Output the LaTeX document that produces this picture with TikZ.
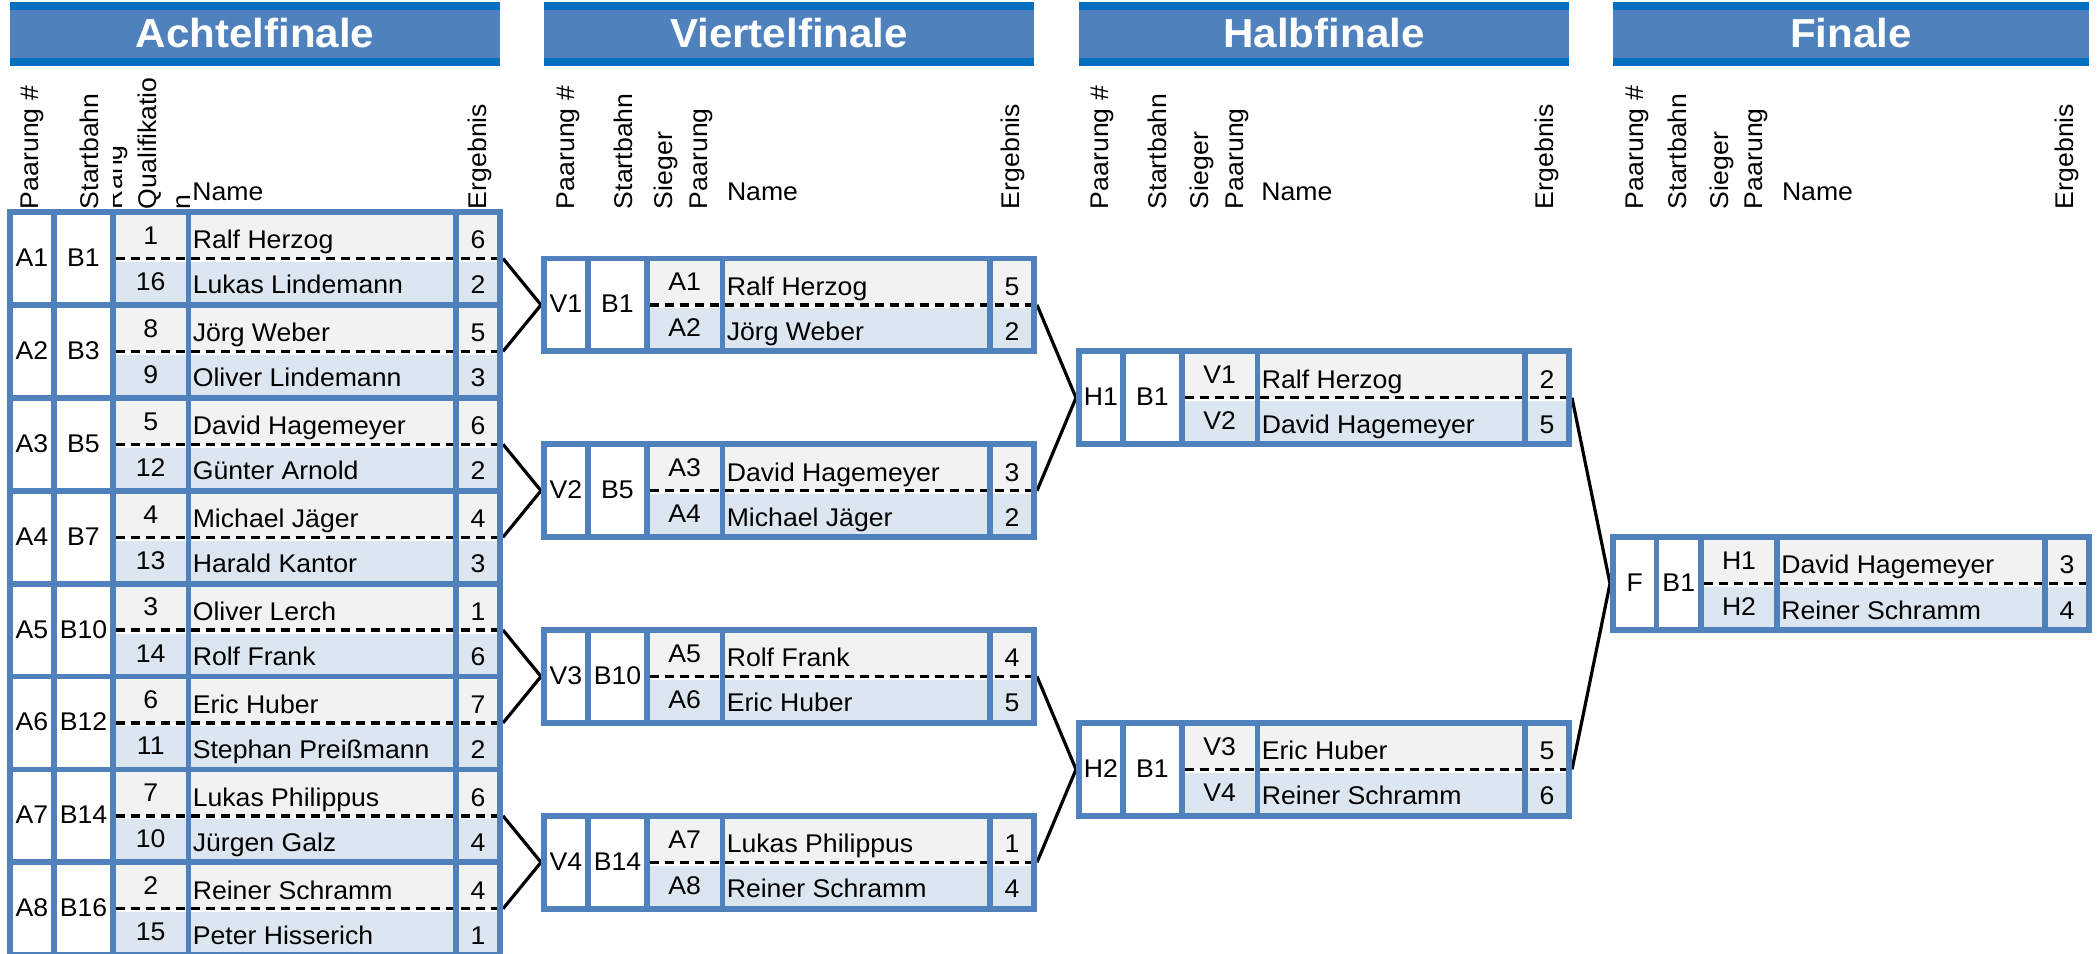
\documentclass[tikz,border=0pt]{standalone}
\usepackage{fontspec}
\setmainfont{Liberation Sans}[FakeStretch=1.04]
\definecolor{bord}{HTML}{4F81BD}
\definecolor{stripe}{HTML}{0070C0}
\definecolor{rowg}{HTML}{F2F2F2}
\definecolor{rowb}{HTML}{DCE6F1}
\pgfdeclarelayer{bg}
\pgfsetlayers{bg,main}
\tikzset{
  cell/.style={inner sep=0pt, outer sep=0pt, font=\fontsize{25.6}{30}\selectfont, text=black},
  lbl/.style={cell, rotate=90, anchor=base west},
  titletext/.style={inner sep=0pt, anchor=base, text=white, font=\fontsize{40.5}{48}\selectfont\bfseries},
  gridline/.style={draw=bord, line width=5.8pt},
  sepline/.style={black, line width=3.3pt, dash pattern=on 9pt off 6pt},
  link/.style={black, line width=3.2pt, line join=miter},
}
\newcommand\setcols[6]{\def\xA{#1}%
  \pgfmathsetmacro\xB{#1+#2}\pgfmathsetmacro\xC{\xB+#3}%
  \pgfmathsetmacro\xD{\xC+#4}\pgfmathsetmacro\xE{\xD+#5}%
  \pgfmathsetmacro\xF{\xE+#6}}
\newcommand\stagebar[4]{% name, left, right, title
  \fill[bord] (#2,2) rectangle (#3,66);
  \fill[stripe] (#2,2) rectangle (#3,10);
  \fill[stripe] (#2,58) rectangle (#3,66);
  \node[titletext] (#1-title) at ({(#2+#3)/2},47) {#4};}
\newcommand\drawmatches[1]{%
\foreach \qn/\qy/\qp/\qb/\qra/\qna/\qsa/\qrb/\qnb/\qsb in {#1} {
  \pgfmathsetmacro\qm{\qy+46.45}
  \pgfmathsetmacro\qe{\qy+92.9}
  \fill[rowg] (\xC,\qy) rectangle (\xF,\qm);
  \fill[rowb] (\xC,\qm+3.5) rectangle (\xF,\qe);
  \draw[sepline] (\xC+2.5,\qm) -- (\xF+3,\qm);
  \draw[gridline] (\xA,\qy) rectangle (\xF,\qe);
  \foreach \xx in {\xB,\xC,\xD,\xE} \draw[gridline] (\xx,\qy) -- (\xx,\qe);
  \node[cell, anchor=base] (\qn-p) at ({(\xA+\xB)/2}, \qm+8) {\qp};
  \node[cell, anchor=base] (\qn-b) at ({(\xB+\xC)/2}, \qm+8) {\qb};
  \node[cell, anchor=base] (\qn-r1) at ({(\xC+\xD)/2}, \qm-14.1) {\qra};
  \node[cell, anchor=base] (\qn-r2) at ({(\xC+\xD)/2}, \qe-14.5) {\qrb};
  \node[cell, anchor=base west] (\qn-n1) at (\xD+4.3, \qm-9.7) {\qna};
  \node[cell, anchor=base west] (\qn-n2) at (\xD+4.3, \qe-11) {\qnb};
  \node[cell, anchor=base] (\qn-s1) at ({(\xE+\xF)/2}, \qm-9.7) {\qsa};
  \node[cell, anchor=base] (\qn-s2) at ({(\xE+\xF)/2}, \qe-11) {\qsb};
  \coordinate (\qn-out) at (\xF+3,\qm);
  \coordinate (\qn-in) at (\xA-3,\qm);
}}
\begin{document}
\begin{tikzpicture}[x=1pt,y=-1pt]
\useasboundingbox (0,0) rectangle (2100,953);
\begin{pgfonlayer}{bg}
\fill[white] (0,0) rectangle (2100,953);
\end{pgfonlayer}

% ---------- stage bars ----------
\stagebar{A}{10}{500}{Achtelfinale}
\stagebar{V}{544}{1034}{Viertelfinale}
\stagebar{H}{1079}{1569}{Halbfinale}
\stagebar{F}{1613}{2089}{Finale}

% ---------- column labels ----------
\node[lbl] (A-h1) at (38,209) {Paarung \#};
\node[lbl] (A-h2) at (98,209) {Startbahn};
\begin{scope}
  \clip (113,70) rectangle (196,212);
  \node[lbl] (A-h3a) at (122.6,209) {Rang};
  \node[lbl] (A-h3b) at (156.6,209) {Qualifikatio};
  \node[lbl] (A-h3c) at (190.6,209) {n};
\end{scope}
\node[cell, anchor=base west] (A-h4) at (192.3,200) {Name};
\node[lbl] (A-h5) at (486,209) {Ergebnis};

\node[lbl] (V-h1) at (574,209) {Paarung \#};
\node[lbl] (V-h2) at (632,209) {Startbahn};
\node[lbl] (V-h3a) at (672.5,209) {Sieger};
\node[lbl] (V-h3b) at (707,209) {Paarung};
\node[cell, anchor=base west] (V-h4) at (727,200) {Name};
\node[lbl] (V-h5) at (1019,209) {Ergebnis};

\node[lbl] (H-h1) at (1108,209) {Paarung \#};
\node[lbl] (H-h2) at (1166,209) {Startbahn};
\node[lbl] (H-h3a) at (1208.6,209) {Sieger};
\node[lbl] (H-h3b) at (1243.6,209) {Paarung};
\node[cell, anchor=base west] (H-h4) at (1261.3,200) {Name};
\node[lbl] (H-h5) at (1553.6,209) {Ergebnis};

\node[lbl] (F-h1) at (1643,209) {Paarung \#};
\node[lbl] (F-h2) at (1686.3,209) {Startbahn};
\node[lbl] (F-h3a) at (1728,209) {Sieger};
\node[lbl] (F-h3b) at (1762,209) {Paarung};
\node[cell, anchor=base west] (F-h4) at (1782,200) {Name};
\node[lbl] (F-h5) at (2073.6,209) {Ergebnis};

% ---------- Achtelfinale ----------
\setcols{10}{44}{59}{75.5}{267.5}{44}
\drawmatches{A1/212/A1/B1/1/Ralf Herzog/6/16/Lukas Lindemann/2,
A2/304.9/A2/B3/8/Jörg Weber/5/9/Oliver Lindemann/3,
A3/397.8/A3/B5/5/David Hagemeyer/6/12/Günter Arnold/2,
A4/490.7/A4/B7/4/Michael Jäger/4/13/Harald Kantor/3,
A5/583.6/A5/B10/3/Oliver Lerch/1/14/Rolf Frank/6,
A6/676.5/A6/B12/6/Eric Huber/7/11/Stephan Preißmann/2,
A7/769.4/A7/B14/7/Lukas Philippus/6/10/Jürgen Galz/4,
A8/862.3/A8/B16/2/Reiner Schramm/4/15/Peter Hisserich/1}

% ---------- Viertelfinale ----------
\setcols{544}{44}{59}{75.5}{267.5}{44}
\drawmatches{V1/258.45/V1/B1/A1/Ralf Herzog/5/A2/Jörg Weber/2,
V2/444.25/V2/B5/A3/David Hagemeyer/3/A4/Michael Jäger/2,
V3/630.05/V3/B10/A5/Rolf Frank/4/A6/Eric Huber/5,
V4/815.85/V4/B14/A7/Lukas Philippus/1/A8/Reiner Schramm/4}

% ---------- Halbfinale ----------
\setcols{1079}{44}{59}{75.5}{267.5}{44}
\drawmatches{H1/351.35/H1/B1/V1/Ralf Herzog/2/V2/David Hagemeyer/5,
H2/722.95/H2/B1/V3/Eric Huber/5/V4/Reiner Schramm/6}

% ---------- Finale ----------
\setcols{1613}{43.5}{44.5}{76}{268}{44}
\drawmatches{F/537.15/F/B1/H1/David Hagemeyer/3/H2/Reiner Schramm/4}

% ---------- connectors ----------
\begin{pgfonlayer}{bg}
\draw[link] (A1-out) -- (V1-in) -- (A2-out);
\draw[link] (A3-out) -- (V2-in) -- (A4-out);
\draw[link] (A5-out) -- (V3-in) -- (A6-out);
\draw[link] (A7-out) -- (V4-in) -- (A8-out);
\draw[link] (V1-out) -- (H1-in) -- (V2-out);
\draw[link] (V3-out) -- (H2-in) -- (V4-out);
\draw[link] (H1-out) -- (F-in) -- (H2-out);
\end{pgfonlayer}
\end{tikzpicture}
\end{document}
